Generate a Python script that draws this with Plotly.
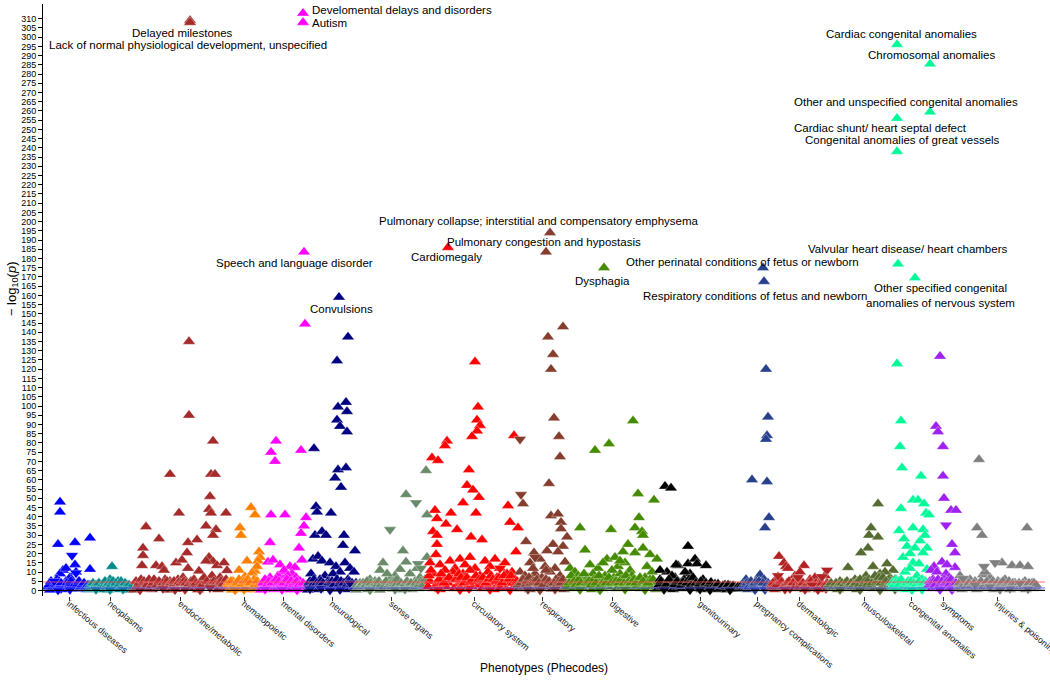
import plotly.graph_objects as go

# ---------------- data: (phecode position, -log10 p) ----------------
infectious_up = [(60,48),(60,42.5),(58,25),(75,26),(90,28.5),(75,14),(90,11.5),(63,11),(60,9),(57,6),(66,5),(52,4),(70,7),
                 (80,4),(85,3),(48,2),(55,1),(62,0.5),(68,1.5),(74,2),(78,0.8),(83,1.2),(87,0.5),(64,3),(59,2.5),(72,3.5),
                 (50,0.2),(76,10),(66,12),
                 (49,3),(51,5),(53,2),(56,3),(59,5),(61,4),(65,2),(67,4),(69,3),(71,5),(73,2),(77,3),(79,5),(81,2),
                 (82,3),(84,4),(86,2),(88,3),(89,1)]
infectious_down = [(72,19),(76,9.5),(54,5),(61,1),(70,0.5),(58,0.3)]

neoplasms_up = [(112,13),(110,6),(104,4),(98,3.5),(118,5),(122,4),(127,3),(92,2),(95,1),(101,1.5),(106,2.5),(115,2),
                (124,1),(130,1.5),(89,0.5),(108,0.3),(114,0.8),(120,0.5),(128,0.2),(100,0.4),(117,3),
                (90,3),(91,1),(93,4),(94,2),(96,3),(97,2),(99,4),(102,3),(103,2),(105,5),(107,3),(109,4),(111,3),
                (113,5),(116,4),(119,3),(121,5),(125,4),(126,2),(129,3),(131,2)]
neoplasms_down = [(96,0.5),(110,0.4),(123,0.6)]

endocrine_up = [(190,309),(190,308),(189,135),(189,95),(213,81),(211,63),(215,63),(170,63),(210,51),(209,44),(211,42),
                (179,42),(226,42),(146,34.5),(206,35),(216,33),(159,28),(213,30),(188,26),(197,27.5),(143,23),(143,19),
                (142,13.5),(187,20.5),(209,18),(213,15.7),(217,13.5),(224,15),(176,15),(182,16.5),(156,13.5),(162,13),
                (164,11),(188,12),(199,10.5),(227,10.8),(206,16),(212,8),(205,6),(170,5),(150,4),(138,3),(160,3.5),
                (178,6),(195,5),(220,7),(140,1),(145,2),(152,0.5),(158,1.5),(165,2.5),(172,1),(180,2),(185,3),(192,1.5),
                (200,2.5),(203,4),(208,3),(216,2),(222,1),(134,0.3),(148,0.8),(168,0.2),(176,0.6),(198,0.4),(218,0.5),
                (225,2.5),(183,7),(155,5),(165,6),
                (136,5),(137,2),(139,4),(141,6),(144,5),(147,3),(149,6),(151,2.5),(153,4),(154,6),(157,3),(159,5),
                (161,2),(163,4),(166,3.5),(167,5),(169,3),(171,4),(173,2.5),(174,5),(177,3.5),(179,4.5),(181,4),
                (184,5),(186,4),(189,3.5),(191,5),(193,3),(194,6),(196,4),(201,5),(202,3),(204,7),(207,5),(211,4),
                (214,5),(215,3),(219,4),(221,5),(223,3.5),(226,6)]
endocrine_down = [(163,1),(185,0.5),(200,0.3),(210,1.5),(140,0.2),(175,0.4)]

hematopoietic_up = [(251,45),(255,41),(240,34),(241,30),(247,16),(259,21),(260,18),(258,16),(239,11),(255,10.5),
                    (257,13),(245,7.5),(252,9.5),(233,5),(229,3),(236,2),(243,4),(249,3),(254,6),(230,1),(238,0.5),
                    (246,1.5),(253,2),(258,4.5),(232,0.3),(242,0.8),(250,0.4),(256,1),
                    (228,4),(231,5),(234,3),(237,4),(239,6),(241,3),(244,5),(248,6),(250,4),(255,3),(257,5),(259,3)]
hematopoietic_down = [(244,0.5),(235,0.3)]

mental_up = [(303,313),(303,308),(304,183.5),(305,144.5),(276,81),(271,75),(275,70),(301,76),(271,41),(285,41),
             (306,39.5),(304,35),(301,31),(299,23),(302,16.5),(270,26),(268,15.5),(273,16.5),(280,14),(290,13),
             (295,12.5),(285,10),(278,8),(292,9),(264,5),(262,2),(266,3),(270,7),(275,5),(283,6),(288,4),(296,7),
             (300,5),(305,3),(268,1),(274,0.5),(280,2),(286,1),(293,2.5),(298,1.5),(302,0.5),(261,0.3),(277,0.8),
             (290,0.4),(284,11),(288,8),
             (263,4),(265,6),(267,3),(269,5),(272,4),(276,6),(279,5),(281,3),(284,4),(287,6),(289,3),(291,5),(294,4),
             (297,5),(299,3),(303,4),(306,2)]
mental_down = [(282,0.5),(297,0.3),(265,0.6)]

neuro_up = [(339,159),(348,137.5),(337,124.5),(346,102),(338,99.5),(347,97),(337,92.5),(340,89),(347,86),(338,65.5),
            (346,66.5),(335,61),(341,56),(314,77),(331,42),(316,45.5),(317,42.5),(315,30),(322,32),(326,30),(344,30),
            (343,24.5),(355,21.5),(313,17),(318,18.5),(322,16),(330,15),(336,13),(345,15),(350,12),(340,10),(311,9),
            (325,8),(333,9),(320,6),(309,4),(315,3),(328,5),(338,4),(348,6),(353,3),(312,1),(318,0.5),(324,2),
            (331,1.5),(342,2),(351,1),(356,4),(308,0.3),(335,0.8),(345,0.5),(354,10),
            (310,5),(313,3),(314,6),(317,4),(319,3),(321,5),(323,4),(327,3),(329,4),(332,5),(334,3),(337,6),(339,3),
            (341,5),(344,4),(347,3),(349,5),(352,4),(355,2)]
neuro_down = [(350,4),(321,1),(340,0.5),(330,0.3),(310,0.8)]

sense_up = [(426,65),(406,52),(427,41),(403,21.5),(383,15),(406,15.5),(427,18),(400,11.5),(380,11),(395,8),(410,9),
            (370,6),(360,4),(365,3),(375,5),(385,4),(390,6),(398,3),(415,5),(420,7),(424,4),(358,1),(362,2),(368,0.5),
            (372,1.5),(378,2),(382,1),(388,2.5),(393,0.8),(402,1.5),(408,2),(412,0.5),(418,1),(422,2.5),(356,0.3),
            (380,0.2),(400,0.4),(414,3),(387,9),(417,12),
            (357,3),(359,2),(361,3),(363,4),(364,2),(366,3),(367,5),(369,2),(371,4),(373,3),(374,2),(376,4),(377,3),
            (379,5),(381,3),(384,2),(386,5),(389,3),(391,4),(392,2),(394,5),(396,3),(397,6),(399,2),(401,4),(404,3),
            (407,5),(409,3),(411,4),(413,2),(416,4),(419,3),(421,5),(423,3),(425,6)]
sense_down = [(416,47.5),(390,33),(418,14.5),(395,0.5),(370,0.3),(405,0.6),(421,12)]

circulatory_up = [(448,186),(475,124),(478,99.5),(477,92.5),(480,89.5),(477,86.5),(472,83.5),(447,81),(445,78.5),
                  (432,72),(438,70.5),(469,65.5),(467,57),(473,54.5),(479,50.5),(463,47.5),(476,42),(451,42),(446,36),
                  (457,33),(435,43.5),(437,39),(433,32),(437,30),(437,25),(471,29),(482,27.5),(436,19.5),(508,46),
                  (510,37),(518,34),(516,21),(514,84),(430,15),(440,14),(450,16),(455,12),(460,17),(465,14),(470,18),
                  (475,12),(485,16),(490,13),(495,17),(500,12),(505,15),(512,10),(433,9),(443,8),(453,10),(463,9),
                  (480,8),(488,10),(497,7),(507,9),(515,6),(430,5),(436,3),(442,5),(448,4),(452,6),(458,3),(462,5),
                  (468,4),(474,6),(478,3),(484,5),(492,4),(498,3),(503,5),(510,4),(428,2),(434,1),(440,0.5),(446,2),
                  (454,1),(460,1.5),(466,0.8),(472,2),(482,1),(488,2),(494,0.5),(500,1.5),(506,1),(514,2),(520,1),
                  (470,11),(445,11),
                  (429,8),(431,11),(439,6),(441,9),(444,4),(449,7),(456,6),(459,9),(461,7),(464,4),(467,7),(471,5),
                  (476,8),(479,6),(483,7),(486,4),(489,6),(491,8),(493,6),(496,5),(499,7),(502,4),(504,8),(509,6),
                  (511,8),(513,4),(517,5),(519,3)]
circulatory_down = [(469,1),(490,0.5),(460,0.4),(510,0.3),(438,0.6),(500,12)]

respiratory_up = [(550,194),(546,183.5),(563,143),(548,137.5),(553,128),(551,120),(554,93.5),(559,83.5),(560,72.5),
                  (549,58),(523,47),(551,40.5),(558,41.5),(561,37),(561,33.5),(567,29),(526,26.5),(553,25),(547,21.5),
                  (563,24),(565,15.5),(534,20.5),(558,21),(530,15),(540,17),(545,13),(555,12),(520,10),(525,8),(535,9),
                  (542,7),(550,10),(560,8),(522,5),(528,4),(532,6),(538,3),(544,5),(548,4),(556,6),(562,3),(519,1),
                  (524,2),(530,0.5),(536,1.5),(541,1),(547,2),(552,0.8),(558,1.5),(564,0.5),(533,12),(546,11),
                  (518,3),(521,4),(523,6),(526,3),(527,5),(529,7),(531,4),(534,5),(537,6),(539,4),(543,3),(546,6),
                  (549,5),(551,3),(554,4),(557,3),(559,5),(561,4),(563,6),(566,3)]
respiratory_down = [(521,52),(520,82),(528,0.5),(540,0.3),(555,0.6),(535,18)]

digestive_up = [(604,175),(633,92),(609,79.5),(595,76),(638,52.5),(654,49),(639,39.5),(635,34),(642,32),(643,30),
                (580,34),(611,33),(585,22),(628,25),(623,21),(635,20.5),(643,23),(607,17),(615,18),(650,19.5),(657,17),
                (570,12),(575,10),(590,14),(598,12),(603,15),(618,13),(625,15),(630,11),(647,13),(652,10),(572,6),
                (578,8),(583,5),(588,7),(593,9),(600,6),(605,8),(610,5),(614,7),(620,9),(627,6),(632,8),(638,5),
                (645,7),(650,6),(655,4),(567,2),(573,1),(577,3),(582,1.5),(587,2.5),(592,0.5),(597,3),(602,1),(608,2),
                (613,3.5),(617,1),(622,2),(628,3),(633,1.5),(637,2.5),(641,1),(646,3),(651,2),(656,0.5),(620,16),
                (612,11),
                (569,4),(571,8),(574,5),(576,3),(579,6),(581,4),(584,9),(586,4),(589,5),(591,3),(594,6),(596,4),(599,8),
                (601,3),(604,5),(606,4),(609,7),(611,4),(616,5),(619,4),(621,6),(624,4),(626,8),(629,5),(631,4),
                (634,6),(636,4),(640,7),(643,5),(648,4),(653,6)]
digestive_down = [(580,0.5),(600,0.3),(625,0.6),(645,0.4)]

genitourinary_up = [(665,56.5),(671,55.5),(688,24),(678,13.5),(688,14.5),(695,17),(697,14.5),(706,13.5),(667,10),
                    (690,9),(676,14),(660,6),(663,4),(670,5),(675,7),(680,4),(684,6),(692,5),(700,4),(703,6),(710,3),
                    (715,3.5),(720,2),(725,3),(730,2.5),(735,2),(740,1.5),(658,1),(662,2),(668,1.5),(673,0.5),(678,2),
                    (682,1),(686,2.5),(694,1),(698,2),(702,0.5),(707,1.5),(712,1),(717,0.5),(722,1.2),(727,0.4),
                    (732,1),(737,0.6),(742,0.8),(685,10),(672,8),(660,11),
                    (659,3),(661,5),(666,3),(669,6),(674,3),(677,5),(681,2.5),(683,4.5),(687,4),(689,6),(691,3),(693,7),
                    (696,4),(699,3),(701,5),(704,2),(706,4),(708,2.5),(711,4.5),(713,2),(716,2.5),(718,3.5),(721,1.5),
                    (723,2.5),(726,2),(728,3),(731,1.5),(733,2.5),(736,1),(738,2),(741,2.5),(743,1)]
genitourinary_down = [(664,0.5),(690,0.4),(710,0.3),(730,0.3),(700,0.6)]

pregnancy_up = [(763,175),(764,167.5),(766,120),(768,94),(767,84),(766,82),(752,60),(767,59),(769,39.5),(765,34),
                (746,6),(760,8.5),(756,5),(764,6),(750,3),(754,2),(758,4),(762,3),(768,4),(745,1),(748,0.5),(752,1.5),
                (757,1),(761,2),(766,1),(769,2),
                (744,3),(747,4),(749,2),(751,5),(753,3),(755,4),(759,5),(763,4),(767,3),(770,3)]
pregnancy_down = [(755,0.4),(765,0.5)]

dermatologic_up = [(779,18.5),(784,15),(786,13),(804,13.5),(788,12),(778,7.5),(795,8),(810,6),(815,7),(820,5),(825,8),
                   (772,3),(776,5),(782,4),(790,3),(794,5),(799,4),(802,3),(807,2),(812,4),(817,2.5),(822,3),(827,4),
                   (771,1),(775,0.5),(780,1.5),(785,1),(792,2),(797,1),(805,0.5),(809,1.5),(814,1),(819,0.5),(824,1.5),
                   (800,10),
                   (773,4),(774,2),(777,3),(781,5),(783,2),(787,4),(789,5),(791,3),(793,4),(796,3),(798,2),(801,5),
                   (803,4),(806,3),(808,4),(811,5),(813,3),(816,4),(818,3),(821,4),(823,2),(826,3)]
dermatologic_down = [(778,8),(827,11),(822,7.5),(798,7),(812,3),(790,1),(805,0.5),(818,0.4),(785,0.6),(826,1)]

musculo_up = [(878,47),(871,34),(869,30),(878,29),(868,23),(861,20.5),(848,12.5),(873,13),(887,14.5),(893,11),(880,9),
              (866,8),(855,6),(840,5),(835,3),(845,4),(850,3),(858,5),(862,4),(876,6),(884,5),(890,7),(896,4),(830,1),
              (833,2),(838,0.5),(843,1.5),(848,1),(853,2),(857,0.5),(864,1.5),(870,2),(874,1),(882,2),(888,1),
              (894,1.5),(899,0.8),(885,10),
              (829,3),(831,4),(834,2),(836,4),(837,2),(839,3),(841,2),(842,4),(844,3),(846,2),(847,5),(849,3),(851,4),
              (852,2),(854,3),(856,4),(859,3),(860,6),(863,3),(865,5),(867,3),(869,6),(872,4),(875,8),(877,5),(879,7),
              (881,4),(883,7),(886,5),(889,3),(891,5),(892,3),(895,6),(897,3),(898,5)]
musculo_down = [(840,0.5),(860,0.4),(880,0.3),(895,0.6)]

congenital_up = [(897,296),(930,285.5),(930,259.5),(897,256),(897,238),(898,177),(915,169.5),(897,123),(901,92),
                 (900,78),(902,66.5),(921,62),(913,49),(918,49),(924,47),(901,44.5),(926,42),(929,41),(913,34),(923,33),
                 (899,32.5),(907,24),(915,23),(927,23),(923,20.5),(903,18),(913,15),(919,14.5),(927,11.5),(905,10),
                 (910,12),(917,8),(922,6),(896,6),(900,4),(908,5),(912,3),(920,4),(925,5),(893,2),(903,1),(915,1.5),
                 (928,2),(906,0.5),(918,0.8),(895,1),(910,20),(920,27),(904,28),(925,30),
                 (892,4),(894,3),(897,5),(899,3),(901,6),(904,3),(907,4),(909,2),(911,5),(914,4),(916,3),(919,5),
                 (921,3),(924,4),(926,3),(929,4)]
congenital_down = [(912,0.4),(922,0.5)]

symptoms_up = [(940,127),(936,89),(938,86),(943,78),(943,62),(944,50),(951,43.5),(956,43.5),(952,25),(955,20.5),
               (942,15.5),(934,13),(955,12.5),(931,11),(937,10),(946,9),(949,7),(930,5),(933,6),(939,4),(944,6),(948,3),
               (953,5),(957,3),(932,1),(936,2),(941,1),(945,2.5),(950,1.5),(954,1),(947,14),
               (929,3),(931,4),(934,5),(935,3),(938,6),(940,3),(942,5),(945,4),(947,5),(949,3),(951,6),(953,3),(956,4)]
symptoms_down = [(946,35.5),(940,0.5),(952,0.4)]

injuries_up = [(979,71),(977,34),(982,30),(1027,34),(1002,15),(1012,13.5),(1020,13.5),(1028,13),(983,8.5),(970,6),
               (975,5),(990,7),(998,5),(1005,6),(1015,4),(1025,5),(1032,4),(960,3),(965,4),(968,2),(973,3),(980,4),
               (986,3),(992,4),(996,2),(1002,3),(1008,4),(1012,2),(1018,3),(1022,2),(1030,3),(1035,2),(958,1),
               (962,0.5),(967,1.5),(972,1),(977,0.5),(983,1.5),(988,1),(994,0.5),(1000,1.5),(1006,1),(1010,0.5),
               (1016,1.5),(1020,1),(1026,0.5),(1033,1),(985,10),(960,8),
               (959,4),(961,2),(964,3),(966,2),(969,4),(971,2.5),(974,4),(976,2),(978,3),(981,5),(984,2),(987,5),
               (989,3),(991,2),(993,5),(995,3),(997,4),(999,2.5),(1001,4),(1003,5),(1004,2),(1007,3),(1009,5),
               (1011,3),(1013,4),(1014,3),(1017,2),(1019,4),(1021,3),(1023,4),(1024,2),(1027,3),(1029,4),(1031,2),
               (1034,4),(1036,3)]
injuries_down = [(984,13),(995,15),(963,6.5),(975,3),(990,2),(1010,1),(1000,0.5),(1028,0.8),(1020,4)]

categories = ["infectious diseases", "neoplasms", "endocrine/metabolic", "hematopoietic", "mental disorders",
              "neurological", "sense organs", "circulatory system", "respiratory", "digestive", "genitourinary",
              "pregnancy complications", "dermatologic", "musculoskeletal", "congenital anomalies", "symptoms",
              "injuries & poisonings"]
colors = ["#0000FF", "#008B8B", "#A52A2A", "#FF7F00", "#FF00FF", "#000080", "#698B69", "#FF0000", "#853E2E",
          "#458B00", "#000000", "#27408B", "#B22222", "#556B2F", "#00FA9A", "#A020F0", "#7F7F7F"]
ups = [infectious_up, neoplasms_up, endocrine_up, hematopoietic_up, mental_up, neuro_up, sense_up, circulatory_up,
       respiratory_up, digestive_up, genitourinary_up, pregnancy_up, dermatologic_up, musculo_up, congenital_up,
       symptoms_up, injuries_up]
downs = [infectious_down, neoplasms_down, endocrine_down, hematopoietic_down, mental_down, neuro_down, sense_down,
         circulatory_down, respiratory_down, digestive_down, genitourinary_down, pregnancy_down, dermatologic_down,
         musculo_down, congenital_down, symptoms_down, injuries_down]

bonferroni = 4.6
nominal = 1.3

# labelled phenotypes: (text, x anchor, y, anchor side)
labels = [
    ("Delayed milestones", 130, 302.3, "left"),
    ("Lack of normal physiological development, unspecified", 47, 295.9, "left"),
    ("Develomental delays and disorders", 310, 314.8, "left"),
    ("Autism", 310, 307.8, "left"),
    ("Speech and language disorder", 214, 177.6, "left"),
    ("Convulsions", 308, 152.7, "left"),
    ("Cardiomegaly", 409, 180.9, "left"),
    ("Pulmonary collapse; interstitial and compensatory emphysema", 377, 200.4, "left"),
    ("Pulmonary congestion and hypostasis", 445, 189.0, "left"),
    ("Dysphagia", 573, 167.8, "left"),
    ("Other perinatal conditions of fetus or newborn", 624, 178.2, "left"),
    ("Respiratory conditions of fetus and newborn", 641, 159.7, "left"),
    ("Cardiac congenital anomalies", 824, 301.8, "left"),
    ("Chromosomal anomalies", 866, 290.4, "left"),
    ("Other and unspecified congenital anomalies", 792, 264.9, "left"),
    ("Cardiac shunt/ heart septal defect", 792, 250.8, "left"),
    ("Congenital anomalies of great vessels", 803, 244.3, "left"),
    ("Valvular heart disease/ heart chambers", 806, 185.2, "left"),
    ("Other specified congenital<br>anomalies of nervous system", 940, 159.7, "center"),
]

FONT = "Liberation Sans, Arial, Helvetica, sans-serif"

fig = go.Figure()
tickvals = []
for name, col, up, dn in zip(categories, colors, ups, downs):
    xs = [p[0] for p in up] + [p[0] for p in dn]
    tickvals.append((min(xs) + max(xs)) / 2)
    fig.add_trace(go.Scatter(
        x=[p[0] for p in up], y=[p[1] for p in up], mode="markers", name=name,
        marker=dict(symbol="triangle-up", size=11, color=col,
                    line=dict(width=0.6, color="rgba(255,255,255,0.55)")),
        cliponaxis=False, showlegend=False))
    fig.add_trace(go.Scatter(
        x=[p[0] for p in dn], y=[p[1] for p in dn], mode="markers", name=name,
        marker=dict(symbol="triangle-down", size=11, color=col,
                    line=dict(width=0.6, color="rgba(255,255,255,0.55)")),
        cliponaxis=False, showlegend=False))

# threshold lines and baseline
fig.add_hline(y=bonferroni, line=dict(color="rgba(255,80,80,0.55)", width=1.5), layer="above")
fig.add_hline(y=nominal, line=dict(color="rgba(80,80,255,0.55)", width=1.5), layer="above")
fig.add_hline(y=0, line=dict(color="black", width=1.2), layer="above")

annotations = []
for text, x, y, anchor in labels:
    annotations.append(dict(x=x, y=y, xref="x", yref="y", text=text, showarrow=False,
                            xanchor=anchor, yanchor="middle", align="center",
                            font=dict(family=FONT, size=11.5, color="black")))
annotations.append(dict(x=0.5, y=-0.121, xref="paper", yref="paper", text="Phenotypes (Phecodes)",
                        showarrow=False, xanchor="center", yanchor="middle",
                        font=dict(family=FONT, size=12, color="black")))
annotations.append(dict(x=-0.031, y=0.52, xref="paper", yref="paper", text="− log<sub>10</sub>(<i>p</i>)",
                        showarrow=False, textangle=-90, xanchor="center", yanchor="middle",
                        font=dict(family=FONT, size=13, color="black")))

fig.update_layout(
    width=1050, height=681,
    margin=dict(l=43, r=5, t=4, b=85),
    paper_bgcolor="white", plot_bgcolor="white",
    font=dict(family=FONT, color="black"),
    annotations=annotations,
    xaxis=dict(range=[43, 1045], tickmode="array", tickvals=tickvals, ticktext=categories,
               tickangle=40, ticks="outside", ticklen=4, tickcolor="#333", showgrid=False, zeroline=False,
               showline=False, automargin=False, ticklabeloverflow="allow", ticklabelstandoff=-6,
               tickfont=dict(family=FONT, size=9, color="#222")),
    yaxis=dict(range=[-3, 318], tickmode="array", tickvals=list(range(0, 311, 5)),
               ticks="outside", ticklen=4, tickcolor="black", showgrid=False, zeroline=False,
               showline=True, linecolor="black", linewidth=1, automargin=False,
               tickfont=dict(family=FONT, size=9, color="black")),
)

fig.write_html("out.html", config={"displayModeBar": False},
               post_script="document.body.style.margin='0';document.body.style.padding='0';")
